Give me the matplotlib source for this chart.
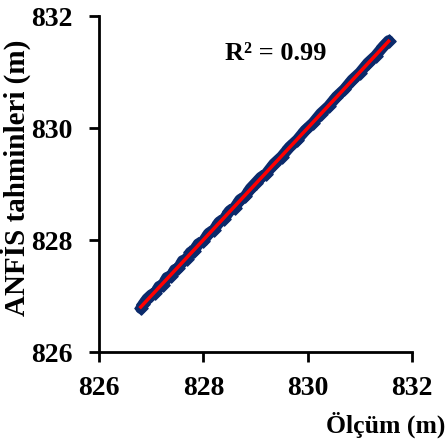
import matplotlib
matplotlib.use("Agg")
import matplotlib.pyplot as plt
import numpy as np

olcum = [826.80, 826.85, 826.92, 827.00, 827.08, 827.15, 827.22, 827.30, 827.38,
         827.45, 827.52, 827.60, 827.68, 827.75, 827.82, 827.90, 828.00, 828.10,
         828.20, 828.30, 828.40, 828.50, 828.60, 828.70, 828.80, 828.90, 829.00,
         829.10, 829.20, 829.35, 829.50, 829.65, 829.80, 829.95, 830.10, 830.25,
         830.40, 830.55, 830.70, 830.85, 831.00, 831.15, 831.30, 831.45, 831.55]
anfis = [826.78, 826.86, 826.95, 827.02, 827.06, 827.17, 827.20, 827.33, 827.36,
         827.47, 827.50, 827.63, 827.66, 827.78, 827.80, 827.93, 827.98, 828.12,
         828.18, 828.32, 828.38, 828.52, 828.58, 828.72, 828.78, 828.92, 829.02,
         829.12, 829.18, 829.36, 829.49, 829.66, 829.79, 829.96, 830.09, 830.26,
         830.39, 830.56, 830.69, 830.86, 830.99, 831.16, 831.29, 831.46, 831.56]
ticks = [826, 828, 830, 832]

plt.rcParams['font.family'] = ['Liberation Serif', 'DejaVu Serif']
plt.rcParams['font.weight'] = 'bold'

fig = plt.figure(figsize=(4.46, 4.47), dpi=100)
ax = fig.add_axes([0.222, 0.2125, 0.702, 0.7515])

ax.plot(olcum, anfis, color='#0b2a6b', lw=8, solid_capstyle='round', zorder=2)
ax.scatter(olcum, anfis, s=45, color='#0b2a6b', marker='D', zorder=2)
coef = np.polyfit(olcum, anfis, 1)
xs = np.array([min(olcum), max(olcum)])
ax.plot(xs, np.polyval(coef, xs), color='#ff0000', lw=2.5, zorder=3)

ax.set_xlim(826, 832)
ax.set_ylim(826, 832)
ax.set_xticks(ticks)
ax.set_yticks(ticks)
ax.set_xticklabels([str(t) for t in ticks], fontsize=20, fontweight='bold')
ax.set_yticklabels([str(t) for t in ticks], fontsize=20, fontweight='bold')
for s in ['top', 'right']:
    ax.spines[s].set_visible(False)
for s in ['left', 'bottom']:
    ax.spines[s].set_linewidth(2)
ax.tick_params(direction='out', length=7, width=2, pad=10)
ax.tick_params(axis='y', pad=12)

ax.text(225 / 446, 1 - 53 / 447, 'R² = 0.99', transform=fig.transFigure, fontsize=19,
        fontweight='bold', ha='left', va='center')
fig.text(15 / 446, 1 - 178 / 447, 'ANFİS tahminleri (m)', fontsize=21, fontweight='bold',
         rotation=90, ha='center', va='center')
fig.text(0.998, 1 - 425 / 447, 'Ölçüm (m)', fontsize=18.5, fontweight='bold', ha='right', va='center')

fig.savefig('out.png', dpi=100)
